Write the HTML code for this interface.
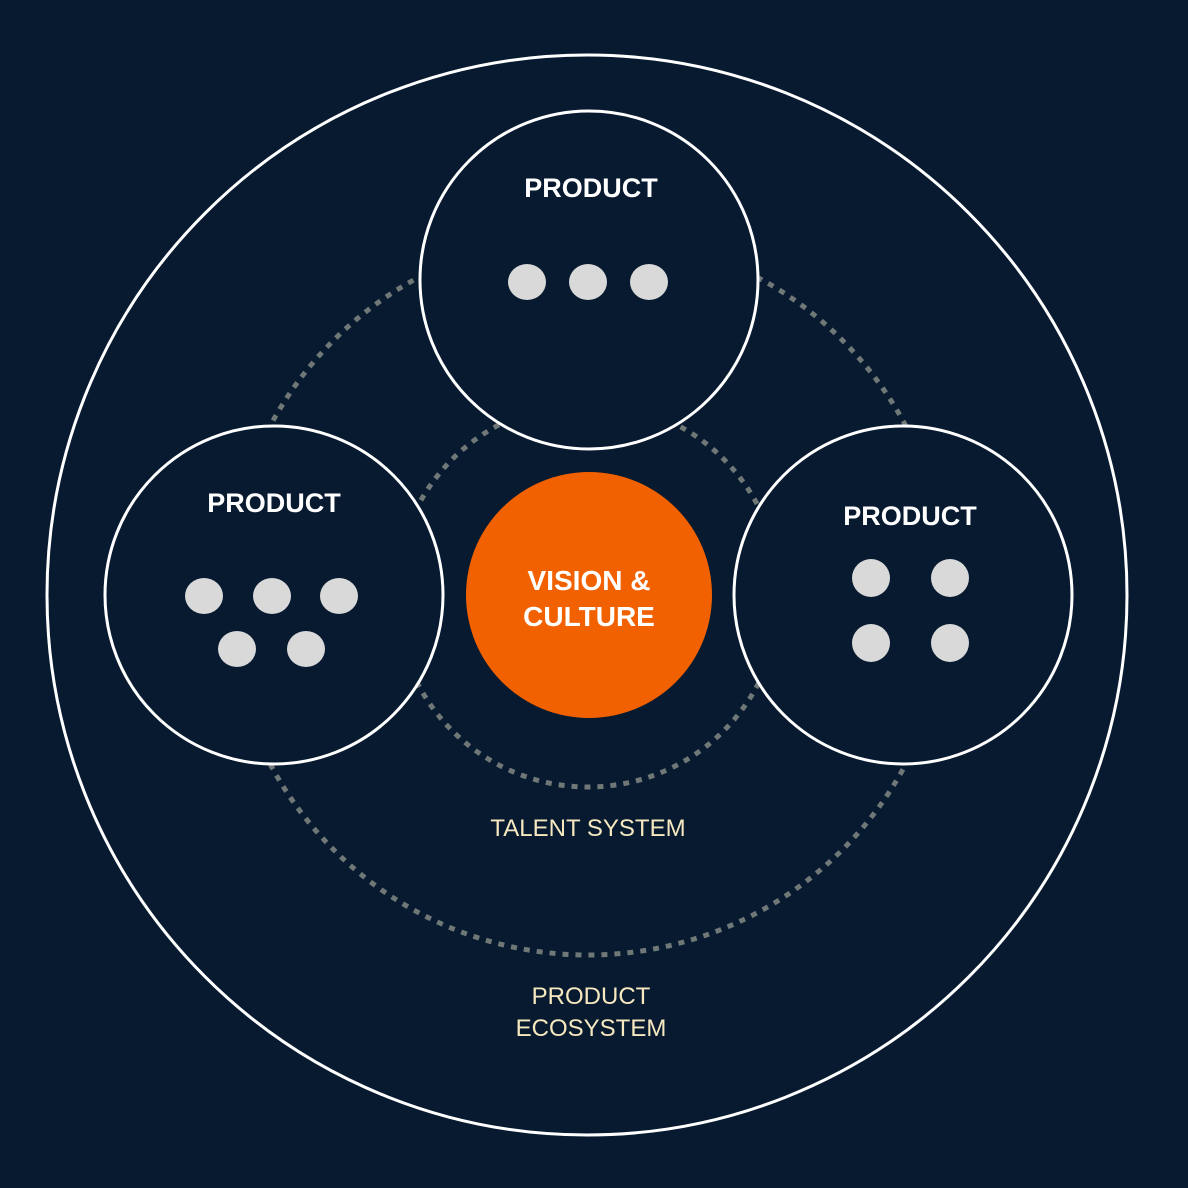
<!DOCTYPE html>
<html><head><meta charset="utf-8"><style>
html,body{margin:0;padding:0;background:#071a30;}
svg{display:block}
text{font-family:"Liberation Sans",sans-serif;}
</style></head><body>
<svg width="1188" height="1188" viewBox="0 0 1188 1188">
<rect width="1188" height="1188" fill="#071a30"/>
<circle cx="587" cy="595" r="540" fill="none" stroke="#fff" stroke-width="3"/>
<circle cx="588" cy="595" r="360" fill="none" stroke="#6f7877" stroke-width="5" stroke-dasharray="6 7"/>
<circle cx="588" cy="595" r="192" fill="none" stroke="#6f7877" stroke-width="5" stroke-dasharray="6 7"/>
<circle cx="589" cy="595" r="123" fill="#f26100"/>
<text x="589" y="590" fill="#fff" font-size="28" font-weight="bold" text-anchor="middle">VISION &amp;</text>
<text x="589" y="626" fill="#fff" font-size="28" font-weight="bold" text-anchor="middle">CULTURE</text>
<g fill="#071a30" stroke="#fff" stroke-width="3">
<circle cx="589" cy="280" r="169"/>
<circle cx="274" cy="595" r="169"/>
<circle cx="903" cy="595" r="169"/>
</g>
<g fill="#fff" font-size="27" font-weight="bold" text-anchor="middle">
<text x="591" y="197">PRODUCT</text>
<text x="274" y="512">PRODUCT</text>
<text x="910" y="525">PRODUCT</text>
</g>
<g fill="#d9d9d9">
<ellipse cx="527" cy="282" rx="19" ry="18"/>
<ellipse cx="588" cy="282" rx="19" ry="18"/>
<ellipse cx="649" cy="282" rx="19" ry="18"/>
<ellipse cx="204" cy="596" rx="19" ry="18"/>
<ellipse cx="272" cy="596" rx="19" ry="18"/>
<ellipse cx="339" cy="596" rx="19" ry="18"/>
<ellipse cx="237" cy="649" rx="19" ry="18"/>
<ellipse cx="306" cy="649" rx="19" ry="18"/>
<ellipse cx="871" cy="578" rx="19" ry="19"/>
<ellipse cx="950" cy="578" rx="19" ry="19"/>
<ellipse cx="871" cy="643" rx="19" ry="19"/>
<ellipse cx="950" cy="643" rx="19" ry="19"/>
</g>
<g fill="#f6e8bf" font-size="24" text-anchor="middle">
<text x="588" y="836">TALENT SYSTEM</text>
<text x="591" y="1004">PRODUCT</text>
<text x="591" y="1036">ECOSYSTEM</text>
</g>
</svg>
</body></html>
